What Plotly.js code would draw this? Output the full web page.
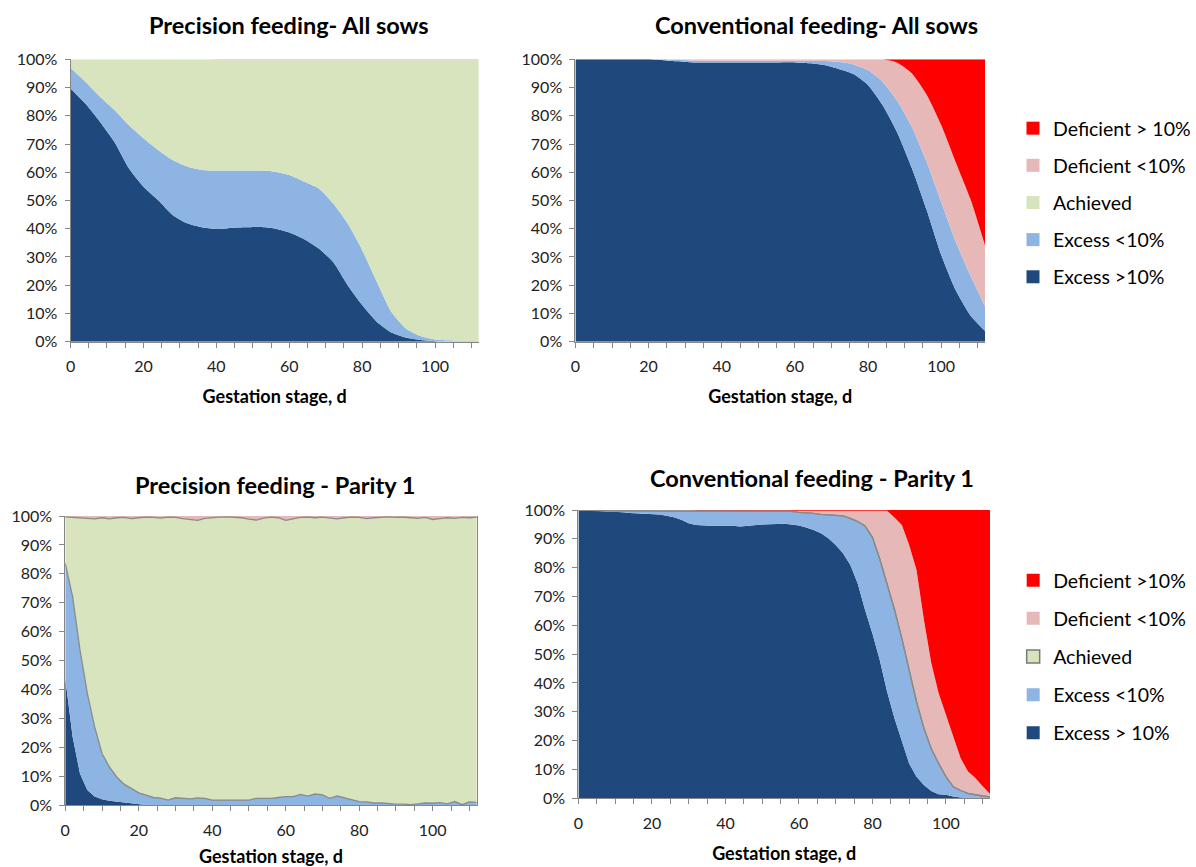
<!DOCTYPE html>
<html>
<head>
<meta charset="utf-8">
<script src="https://cdn.plot.ly/plotly-3.0.1.min.js"></script>
<style>html,body{margin:0;padding:0;background:#fff;}#chart{width:1196px;height:867px;}</style>
</head>
<body>
<div id="chart"></div>
<script>
// ---------- categories ----------
const seriesNames = ["Excess >10%", "Excess <10%", "Achieved", "Deficient <10%", "Deficient > 10%"];
const seriesNamesBottom = ["Excess > 10%", "Excess <10%", "Achieved", "Deficient <10%", "Deficient >10%"];
const panelTitles = ["Precision feeding- All sows", "Conventional feeding- All sows", "Precision feeding - Parity 1", "Conventional feeding - Parity 1"];
const xTitle = "Gestation stage, d";

// ---------- x values (gestation day) ----------
const daysTop = [0,4,8,12,16,20,24,28,32,36,40,44,48,52,56,60,64,68,72,76,80,84,88,92,96,100,104,108,112];
const daysBottom = [0,2,4,6,8,10,12,14,16,18,20,22,24,26,28,30,32,34,36,38,40,42,44,46,48,50,52,54,56,58,60,62,64,66,68,70,72,74,76,78,80,82,84,86,88,90,92,94,96,98,100,102,104,106,108,110,112];

// ---------- Precision feeding - All sows (% of sows) ----------
const pfAll_excessHi = [89.7,84.4,78,70.8,61.4,54.9,50.2,44.9,41.9,40.5,39.9,40.3,40.5,40.6,40.1,38.7,36.4,33.1,28.3,20.1,13.0,7.1,3.3,1.5,0.6,0.2,0,0,0];
const pfAll_excessLo = [7.3,7.7,8.8,11.3,15.3,17.1,17.7,19.4,20.1,20.3,20.7,20.3,20.1,20.0,20.1,20.3,20.3,21.2,20.7,21.8,19.5,14.2,7.3,3.2,1.4,0.6,0.5,0.3,0.3];
const pfAll_achieved = [3.0,7.9,13.2,17.9,23.3,28.0,32.1,35.7,38.0,39.2,39.1,39.1,39.1,39.1,39.5,40.7,43.0,45.4,50.7,57.8,67.2,78.4,89.1,95.0,97.7,98.9,99.2,99.4,99.4];
const pfAll_defLo = [0,0,0,0,0,0,0,0,0,0,0.3,0.3,0.3,0.3,0.3,0.3,0.3,0.3,0.3,0.3,0.3,0.3,0.3,0.3,0.3,0.3,0.3,0.3,0.3];
const pfAll_defHi = [0,0,0,0,0,0,0,0,0,0,0,0,0,0,0,0,0,0,0,0,0,0,0,0,0,0,0,0,0];

// ---------- Conventional feeding - All sows ----------
const cfAll_excessHi = [100,100,100,100,100,100,99.7,99.3,98.9,98.9,98.9,98.9,98.9,98.9,98.9,98.9,98.6,98.0,96.6,94.8,90.9,83.7,74.0,61.4,46.8,30.8,18.2,9.3,3.8];
const cfAll_excessLo = [0,0,0,0,0,0,0.3,0.5,0.6,0.6,0.6,0.6,0.6,0.6,0.6,0.6,0.9,1.4,2.5,3.4,5.3,8.3,11.3,14.6,17.0,18.8,17.2,14.1,8.7];
const cfAll_achieved = [0,0,0,0,0,0,0,0,0,0,0,0,0,0,0,0,0,0,0,0,0,0,0,0,0,0,0,0,0];
const cfAll_defLo = [0,0,0,0,0,0,0,0.2,0.5,0.5,0.5,0.5,0.5,0.5,0.5,0.5,0.5,0.6,0.9,1.8,3.8,8.0,13.5,19.0,23.7,27.1,28.1,27.1,21.5];
const cfAll_defHi = [0,0,0,0,0,0,0,0,0,0,0,0,0,0,0,0,0,0,0,0,0,0,1.2,5.0,12.5,23.3,36.5,49.5,66.0];

// ---------- Precision feeding - Parity 1 ----------
const pfP1_excessHi = [43.9,23.7,11.0,5.3,3.0,2.1,1.6,1.3,0.9,0.7,0.3,0.1,0,0,0,0,0,0,0,0,0,0,0,0,0,0,0,0,0,0,0,0,0,0,0,0,0,0,0,0,0,0,0,0,0,0,0,0,0,0,0,0,0,0,0,0,0];
const pfP1_excessLo = [39.7,48.4,42.7,33.4,24.1,15.8,11.7,8.5,6.4,5.1,4.0,3.4,2.7,2.5,1.8,2.6,2.4,2.2,2.6,2.4,1.8,1.8,1.8,1.8,2.0,1.8,2.4,2.4,2.4,2.7,3.0,3.0,3.8,3.2,3.9,3.6,2.4,3.2,2.6,2.0,1.3,1.2,0.8,0.8,0.5,0.4,0.4,0.2,0.5,0.8,0.7,0.9,0.5,1.3,0.2,1.2,1.0];
const pfP1_achieved = [16.1,27.5,45.8,60.5,71.9,81.5,85.7,89.6,92.2,93.3,95.1,96.1,96.8,96.8,97.8,96.9,96.7,96.7,95.9,96.8,97.7,97.8,97.9,97.7,97.4,97.1,96.2,96.9,97.2,96.7,95.5,96.0,95.7,96.4,95.5,96.0,97.0,95.8,96.8,97.6,98.2,97.9,98.6,98.8,99.2,99.1,99.2,99.2,98.7,98.7,98.1,98.2,98.9,97.9,99.3,98.2,98.6];
const pfP1_defLo = [0.3,0.4,0.5,0.8,1.0,0.6,1.0,0.6,0.5,0.9,0.6,0.4,0.5,0.7,0.4,0.5,0.9,1.1,1.5,0.8,0.5,0.4,0.3,0.5,0.6,1.1,1.4,0.7,0.4,0.6,1.5,1.0,0.5,0.4,0.6,0.4,0.6,1.0,0.6,0.4,0.5,0.9,0.6,0.4,0.3,0.5,0.4,0.6,0.8,0.5,1.2,0.9,0.6,0.8,0.5,0.6,0.4];
const pfP1_defHi = [0,0,0,0,0,0,0,0,0,0,0,0,0,0,0,0,0,0,0,0,0,0,0,0,0,0,0,0,0,0,0,0,0,0,0,0,0,0,0,0,0,0,0,0,0,0,0,0,0,0,0,0,0,0,0,0,0];

// ---------- Conventional feeding - Parity 1 ----------
const cfP1_excessHi = [100,99.9,99.8,99.6,99.5,99.3,99.2,99.0,98.9,98.8,98.6,98.4,98.0,97.5,96.6,95.4,94.8,94.6,94.5,94.5,94.6,94.5,94.3,94.6,94.9,95.0,95.1,95.2,95.2,95.0,94.6,93.9,93.1,91.9,90.2,87.9,85.0,80.9,74.5,65.3,57.2,48.0,37.0,27.8,19.6,12.1,7.5,4.6,2.5,1.4,1.2,0.6,0.3,0.2,0.1,0,0];
const cfP1_excessLo = [0,0,0,0.1,0.2,0.4,0.5,0.7,0.8,0.9,1.1,1.3,1.5,2.0,2.9,4.1,4.7,4.9,5.0,5.0,4.9,5.0,5.2,4.9,4.6,4.5,4.4,4.3,4.3,4.5,4.6,5.2,5.7,6.6,8.1,10.4,13.0,16.2,21.5,29.2,33.3,35.0,37.5,37.7,35.9,32.4,26.0,19.7,14.8,10.7,6.3,3.4,2.4,1.5,1.1,0.8,0.5];
const cfP1_achieved = [0,0,0,0,0,0,0,0,0,0,0,0,0,0,0,0,0,0,0,0,0,0,0,0,0,0,0,0,0,0,0,0,0,0,0,0,0,0,0,0,0,0,0,0,0,0,0,0,0,0,0,0,0,0,0,0,0];
const cfP1_defLo = [0,0.1,0.2,0.3,0.3,0.3,0.3,0.3,0.3,0.3,0.3,0.3,0.5,0.5,0.5,0.5,0.2,0.2,0.2,0.2,0.2,0.2,0.2,0.2,0.2,0.2,0.2,0.2,0.2,0.2,0.5,0.6,0.9,1.2,1.4,1.4,1.7,2.6,3.7,5.2,9.2,16.7,25.2,31.9,39.3,43.4,45.7,37.7,29.7,24.4,21.4,16.8,11.2,7.6,5.8,3.4,1.0];
const cfP1_defHi = [0,0,0,0,0,0,0,0,0,0,0,0,0,0,0,0,0.3,0.3,0.3,0.3,0.3,0.3,0.3,0.3,0.3,0.3,0.3,0.3,0.3,0.3,0.3,0.3,0.3,0.3,0.3,0.3,0.3,0.3,0.3,0.3,0.3,0.3,0.3,2.6,5.2,12.1,20.8,38.0,53.0,63.5,71.1,79.2,86.1,90.7,93.0,95.8,98.5];

// ---------- styles ----------
const colors = ["#1F497D", "#8DB4E2", "#D7E4BD", "#E6B9B8", "#FF0000"];
const FONT = "Lato, 'Open Sans', sans-serif";
const W = 1196, H = 867;
const edgeGray = "#8a8a8a";

const panels = [
  {x: daysTop, s: [pfAll_excessHi, pfAll_excessLo, pfAll_achieved, pfAll_defLo, pfAll_defHi], xa: "x", ya: "y", shape: "spline", outline: false},
  {x: daysTop, s: [cfAll_excessHi, cfAll_excessLo, cfAll_achieved, cfAll_defLo, cfAll_defHi], xa: "x2", ya: "y2", shape: "spline", outline: false},
  {x: daysBottom, s: [pfP1_excessHi, pfP1_excessLo, pfP1_achieved, pfP1_defLo, pfP1_defHi], xa: "x3", ya: "y3", shape: "linear", outline: true},
  {x: daysBottom, s: [cfP1_excessHi, cfP1_excessLo, cfP1_achieved, cfP1_defLo, cfP1_defHi], xa: "x4", ya: "y4", shape: "linear", outline: true}
];

const traces = [];
panels.forEach((p, pi) => {
  p.s.forEach((vals, si) => {
    traces.push({
      type: "scatter", mode: "lines", x: p.x, y: vals,
      xaxis: p.xa, yaxis: p.ya, stackgroup: "g" + pi,
      line: {width: 0, shape: p.shape, smoothing: 0.6},
      fillcolor: colors[si], name: seriesNames[si], showlegend: false, hoverinfo: "skip"
    });
  });
  if (p.outline) {
    // grey border of the "Achieved" area (bottom and top edges)
    const lowEdge = p.s[0].map((v, i) => v + p.s[1][i]);
    const highEdge = lowEdge.map((v, i) => v + p.s[2][i]);
    [lowEdge, highEdge].forEach(edge => traces.push({
      type: "scatter", mode: "lines", x: p.x, y: edge, xaxis: p.xa, yaxis: p.ya,
      line: {color: edgeGray, width: 1.3}, showlegend: false, hoverinfo: "skip"
    }));
  }
});

// legend entries (listed top to bottom: Deficient first)
[["legend", seriesNames, false], ["legend2", seriesNamesBottom, true]].forEach(([lg, names, border]) => {
  for (let si = names.length - 1; si >= 0; si--) {
    traces.push({
      type: "scatter", mode: "markers", x: [null], y: [null], xaxis: "x2", yaxis: "y2",
      name: names[si], legend: lg, legendgroup: lg + si, showlegend: true,
      marker: {symbol: "square", size: 13, color: colors[si],
               line: {color: (border && si === 2) ? "#7a7a7a" : colors[si], width: (border && si === 2) ? 1.5 : 0}}
    });
  }
});

// ---------- layout ----------
function dom(a, b, total) { return [a / total, b / total]; }
function ydom(top, bottom) { return [1 - bottom / H, 1 - top / H]; }

const axisLine = "#868686";
function xAxis(domain, anchor) {
  return {
    domain: domain, anchor: anchor, range: [0, 112], showgrid: false, zeroline: false,
    showline: true, linecolor: axisLine, linewidth: 1,
    tickmode: "array", tickvals: [0, 20, 40, 60, 80, 100], ticks: "outside", ticklen: 5, tickcolor: axisLine,
    minor: {dtick: 5, tick0: 0, ticks: "outside", ticklen: 5, tickcolor: axisLine, showgrid: false},
    ticklabelstandoff: 5,
    tickfont: {family: FONT, size: 16, color: "#222"},
    title: {text: "<b>" + xTitle + "</b>", font: {family: FONT, size: 18, color: "#000"}, standoff: 16},
    fixedrange: true
  };
}
function yAxis(domain, anchor, mirror) {
  return {
    domain: domain, anchor: anchor, range: [0, 100], showgrid: false, zeroline: false,
    showline: true, linecolor: axisLine, linewidth: 1, mirror: mirror,
    dtick: 10, tick0: 0, ticksuffix: "%", ticks: "outside", ticklen: 5, tickcolor: axisLine,
    ticklabelstandoff: 4,
    tickfont: {family: FONT, size: 16, color: "#222"}, fixedrange: true
  };
}

const legendCommon = {
  xanchor: "left", yanchor: "top", traceorder: "grouped",
  font: {family: FONT, size: 19.5, color: "#000"}, bgcolor: "rgba(0,0,0,0)", borderwidth: 0,
  itemclick: false, itemdoubleclick: false
};

function title(text, cx, cy, size) {
  return {text: "<b>" + text + "</b>", x: cx / W, y: 1 - cy / H, xref: "paper", yref: "paper",
          xanchor: "center", yanchor: "middle", showarrow: false,
          font: {family: FONT, size: size, color: "#000"}};
}

const layout = {
  width: W, height: H, margin: {l: 0, r: 0, t: 0, b: 0},
  paper_bgcolor: "#fff", plot_bgcolor: "#fff", showlegend: true,
  xaxis: xAxis(dom(71, 482, W), "y"),
  yaxis: yAxis(ydom(59.3, 341.7), "x", false),
  xaxis2: xAxis(dom(579.3, 991.7, W), "y2"),
  yaxis2: yAxis(ydom(59.3, 341.7), "x2", false),
  xaxis3: xAxis(dom(65.7, 480, W), "y3"),
  yaxis3: yAxis(ydom(516, 805.3), "x3", true),
  xaxis4: xAxis(dom(582.3, 996.7, W), "y4"),
  yaxis4: yAxis(ydom(510, 798.3), "x4", false),
  legend: Object.assign({x: 1020 / W, y: 1 - 109 / H, tracegroupgap: 8.8}, legendCommon),
  legend2: Object.assign({x: 1020 / W, y: 1 - 561 / H, tracegroupgap: 9.8}, legendCommon),
  annotations: [
    title(panelTitles[0], 291, 25, 23.5),
    title(panelTitles[1], 822, 25, 23.5),
    title(panelTitles[2], 277, 485, 23.5),
    title(panelTitles[3], 817, 478, 23.5)
  ]
};

Plotly.newPlot("chart", traces, layout, {staticPlot: true, displayModeBar: false});
</script>
</body>
</html>
